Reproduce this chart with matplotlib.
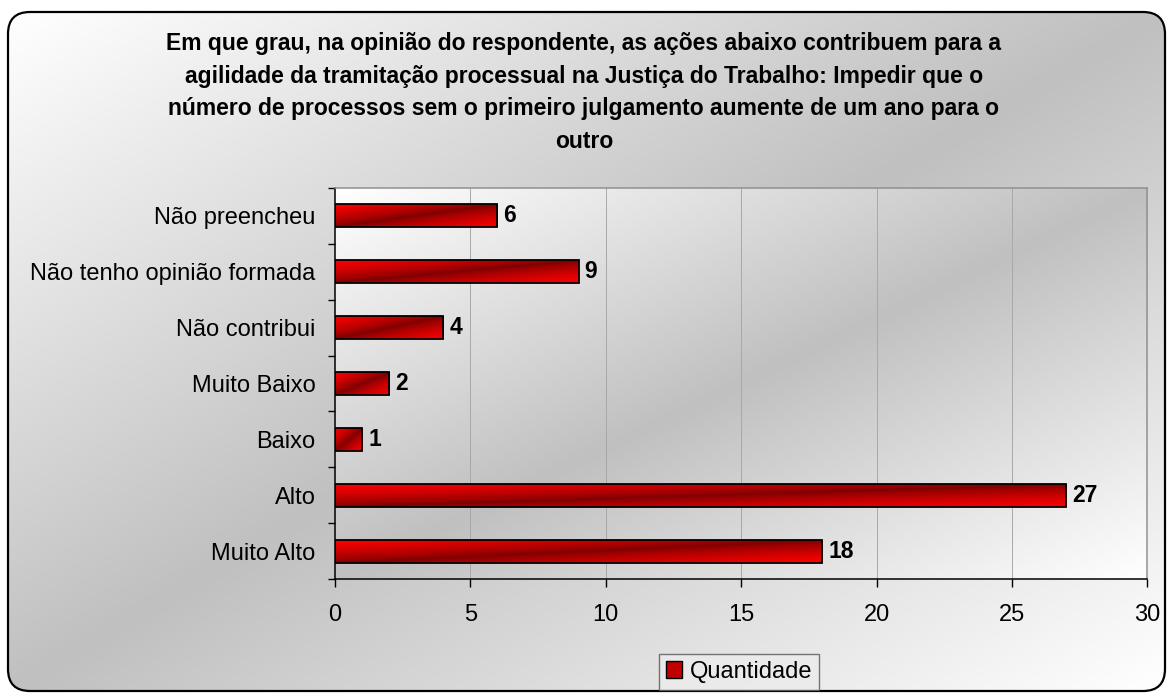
import matplotlib

matplotlib.use("Agg")

import matplotlib.pyplot as plt
import numpy as np
from matplotlib.colors import LinearSegmentedColormap
from matplotlib.patches import FancyBboxPatch, Patch

plt.rcParams["font.family"] = ["Liberation Sans", "DejaVu Sans"]

titulo = (
    "Em que grau, na opinião do respondente, as ações abaixo contribuem para a\n"
    "agilidade da tramitação processual na Justiça do Trabalho: Impedir que o\n"
    "número de processos sem o primeiro julgamento aumente de um ano para o\n"
    "outro"
)
categorias = [
    "Não preencheu",
    "Não tenho opinião formada",
    "Não contribui",
    "Muito Baixo",
    "Baixo",
    "Alto",
    "Muito Alto",
]
quantidade = [6, 9, 4, 2, 1, 27, 18]
xticks = [0, 5, 10, 15, 20, 25, 30]
serie = "Quantidade"

W, H = 1168, 693
cmap_fundo = LinearSegmentedColormap.from_list("fundo", ["#c0c0c0", "#ffffff"])
cmap_barra = LinearSegmentedColormap.from_list("barra", ["#7d0000", "#ff0000"])


def gradiente_diagonal(ny, nx, gamma=1.0):
    """Claro nas esquinas sup-izq e inf-der, oscuro en la otra diagonal."""
    u = np.linspace(0, 1, nx)[None, :]
    v = np.linspace(0, 1, ny)[:, None]
    return np.abs(u + v - 1) ** gamma


fig = plt.figure(figsize=(W / 100, H / 100), dpi=100)
fig.patch.set_facecolor("white")

# fondo con borde redondeado
bg = fig.add_axes([0, 0, 1, 1], zorder=-5)
bg.set_xlim(0, W)
bg.set_ylim(H, 0)
bg.axis("off")
marco = FancyBboxPatch(
    (8, 12), 1157, 679,
    boxstyle="round,pad=0,rounding_size=22",
    facecolor="none", edgecolor="black", linewidth=1.6, zorder=3,
)
bg.add_patch(marco)
img = bg.imshow(
    gradiente_diagonal(200, 300), cmap=cmap_fundo, vmin=0, vmax=1,
    extent=(8, 1165, 691, 12), origin="upper", aspect="auto", zorder=1,
)
img.set_clip_path(marco)

ax = fig.add_axes([0.2868, 0.1645, 0.6955, 0.5642])
ax.patch.set_visible(False)
ax.imshow(
    gradiente_diagonal(200, 300), cmap=cmap_fundo, vmin=0, vmax=1,
    extent=(0, 1, 0, 1), transform=ax.transAxes, origin="upper",
    aspect="auto", zorder=0,
)

y = np.arange(len(categorias))
alto = 0.41
barras = ax.barh(y, quantidade, height=alto, facecolor="none",
                 edgecolor="black", linewidth=1.3, zorder=3)
for b, val, yy in zip(barras, quantidade, y):
    im = ax.imshow(
        gradiente_diagonal(50, 200, 0.75), cmap=cmap_barra, vmin=0, vmax=1,
        extent=(0, val, yy + alto / 2, yy - alto / 2), origin="upper",
        aspect="auto", zorder=2,
    )
    im.set_clip_path(b)
    ax.text(val + 0.22, yy, str(val), va="center", ha="left",
            fontsize=16.5, fontweight="bold", zorder=4)

ax.set_xlim(0, 30)
ax.set_ylim(len(categorias) - 0.5, -0.5)
ax.set_xticks(xticks)
ax.set_xticklabels([str(t) for t in xticks], fontsize=17)
ax.set_yticks(y)
ax.set_yticklabels(categorias, fontsize=17)
ax.set_yticks(np.arange(-0.5, len(categorias)), minor=True)
ax.tick_params(axis="y", which="major", length=0, pad=14)
ax.tick_params(axis="y", which="minor", length=5, width=1, direction="out")
ax.tick_params(axis="x", length=6, width=1, direction="out", pad=12)
for t in xticks[1:-1]:
    ax.axvline(t, color="#a8a8a8", linewidth=0.7, zorder=1)
ax.spines["left"].set_color("black")
ax.spines["bottom"].set_color("black")
ax.spines["top"].set_color("#909090")
ax.spines["right"].set_color("#909090")
for s in ax.spines.values():
    s.set_linewidth(1.1)

fig.text(0.5, 1 - 92.5 / H, titulo, ha="center", va="center", fontsize=16.5,
         fontweight="bold", linespacing=1.54)

leg = fig.legend(
    handles=[Patch(facecolor="#c00000", edgecolor="black", label=serie)],
    loc="center", bbox_to_anchor=(739 / W, 1 - 672 / H), fontsize=17,
    frameon=True, fancybox=False, handlelength=0.7, handleheight=0.7,
    handletextpad=0.3, borderpad=0.3, borderaxespad=0,
)
leg.get_frame().set_edgecolor("#555555")
leg.get_frame().set_facecolor("#ececec")
leg.get_frame().set_linewidth(1.0)

fig.savefig("out.png", dpi=100, facecolor=fig.get_facecolor())
